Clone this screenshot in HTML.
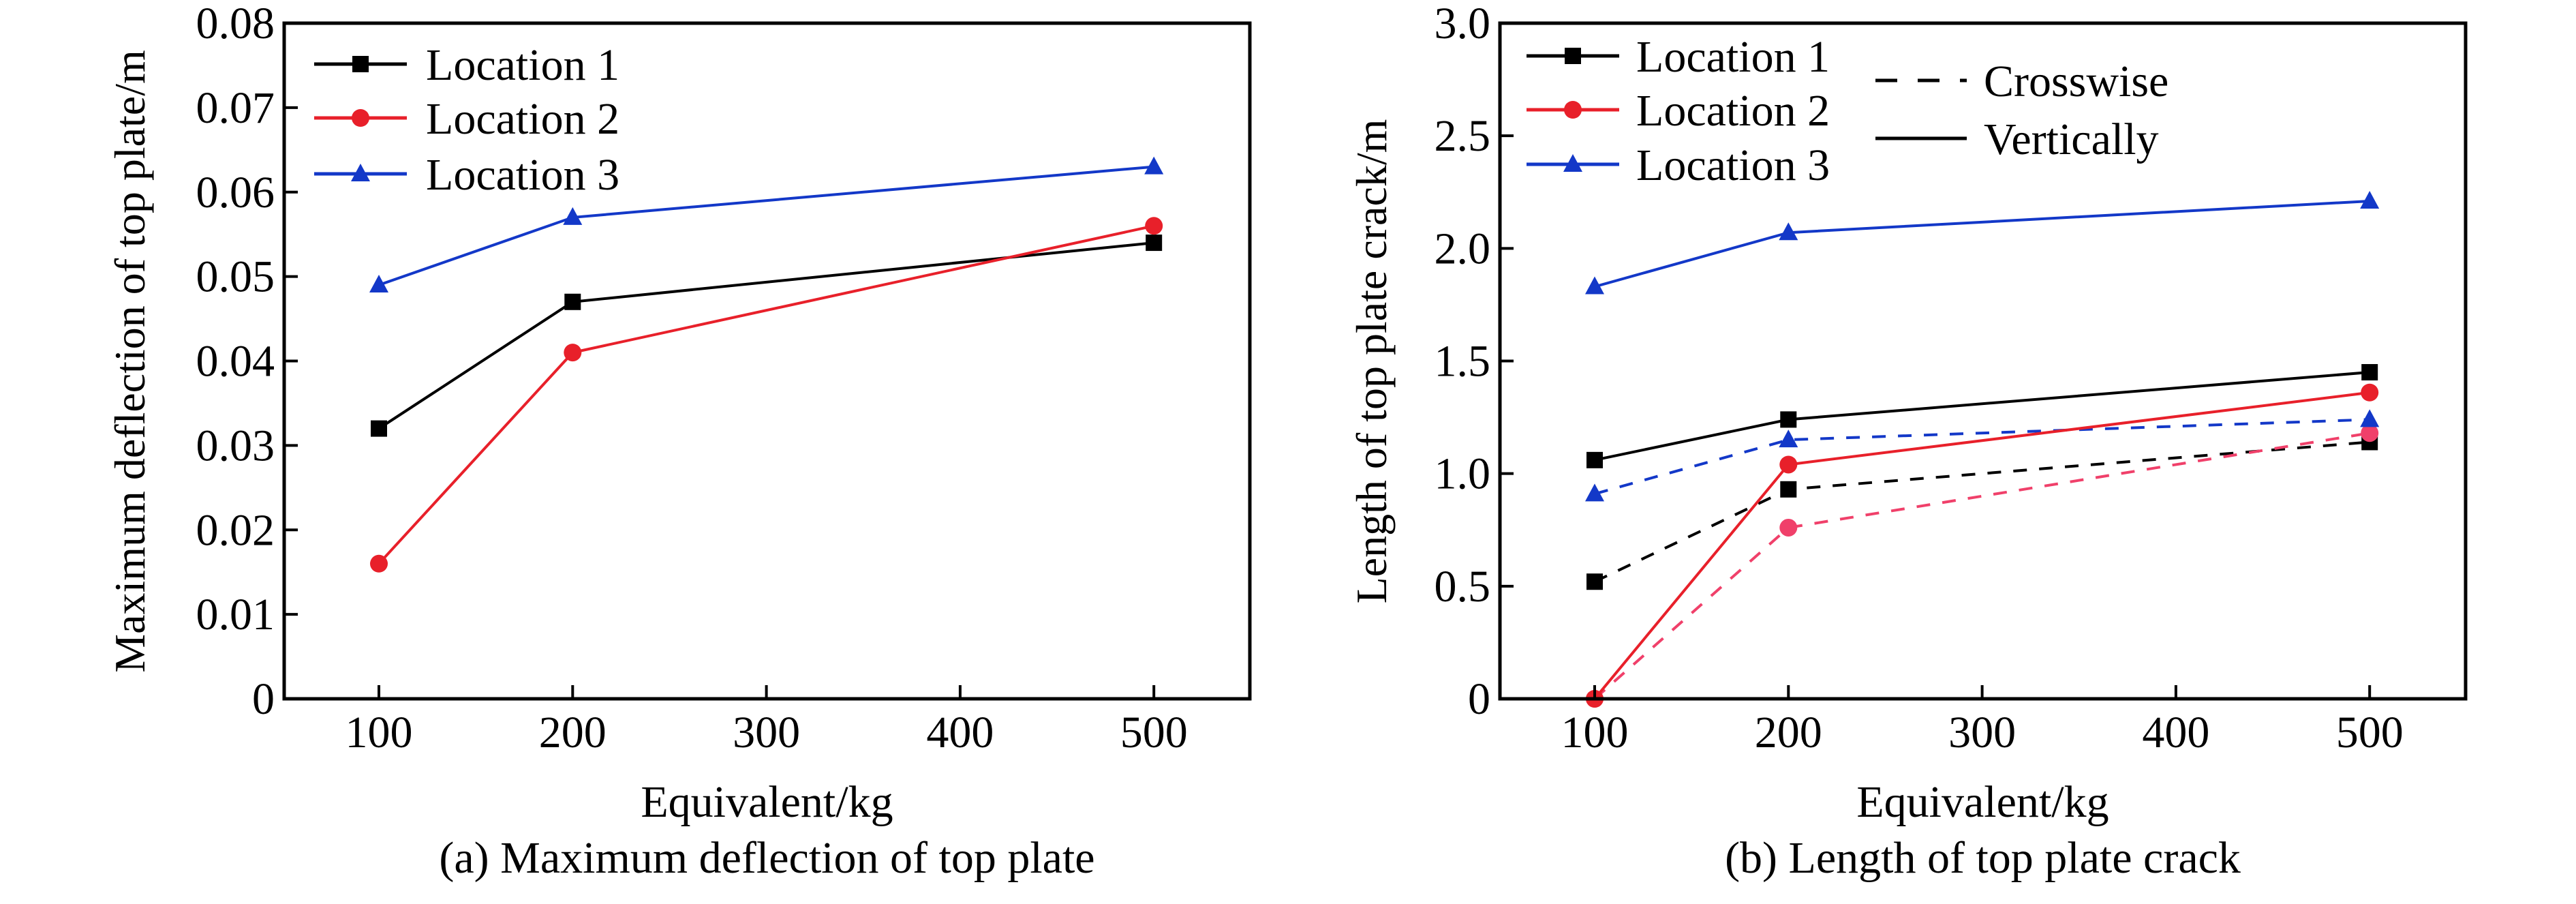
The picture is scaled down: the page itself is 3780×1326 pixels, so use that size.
<!DOCTYPE html>
<html><head><meta charset="utf-8"><style>
html,body{margin:0;padding:0;background:#fff;}
svg{display:block;font-family:"Liberation Serif",serif;}
</style></head><body>
<svg id="fig" width="3780" height="1326" viewBox="0 0 3780 1326" xmlns="http://www.w3.org/2000/svg"></svg>
<script>
const xCats = [100, 200, 500];
const xTicks = [100, 200, 300, 400, 500];
const aTicks = [0, 0.01, 0.02, 0.03, 0.04, 0.05, 0.06, 0.07, 0.08];
const aTickLabels = ["0", "0.01", "0.02", "0.03", "0.04", "0.05", "0.06", "0.07", "0.08"];
const aLoc1 = [0.032, 0.047, 0.054];
const aLoc2 = [0.016, 0.041, 0.056];
const aLoc3 = [0.049, 0.057, 0.063];
const bTicks = [0, 0.5, 1.0, 1.5, 2.0, 2.5, 3.0];
const bTickLabels = ["0", "0.5", "1.0", "1.5", "2.0", "2.5", "3.0"];
const bVert1 = [1.06, 1.24, 1.45];
const bVert2 = [0, 1.04, 1.36];
const bVert3 = [1.83, 2.07, 2.21];
const bCross1 = [0.52, 0.93, 1.14];
const bCross2 = [0, 0.76, 1.18];
const bCross3 = [0.91, 1.15, 1.24];

const NS = "http://www.w3.org/2000/svg";
const svg = document.getElementById('fig');
function mk(tag, attrs, parent) {
  const e = document.createElementNS(NS, tag);
  for (const k in attrs) e.setAttribute(k, attrs[k]);
  (parent || svg).appendChild(e);
  return e;
}
function marker(g, type, x, y, color) {
  let m;
  if (type === 'square') m = mk('rect', {x: x - 12, y: y - 12, width: 24, height: 24, fill: color}, g);
  else if (type === 'circle') m = mk('circle', {cx: x, cy: y, r: 13, fill: color}, g);
  else m = mk('polygon', {points: `${x},${y - 15} ${x - 14},${y + 11} ${x + 14},${y + 11}`, fill: color}, g);
  
  
}
function panel(opt) {
  const g = mk('g', {});
  
  
  const L = opt.left, R = opt.right, T = 34, B = 1025;
  const xs = v => opt.x100 + (v - 100) / 100 * opt.xper;
  const ys = v => B - (v / opt.ymax) * (B - T);
  opt.series.forEach(s => {
    const sg = mk('g', {}, g);
    
    
    const pts = s.vals.map((v, i) => xs(xCats[i]) + ',' + ys(v)).join(' ');
    const pl = mk('polyline', {points: pts, fill: 'none', stroke: s.color, 'stroke-width': 4, 'stroke-dasharray': s.dash || 'none'}, sg);
    
    
    s.vals.forEach((v, i) => marker(sg, s.marker, xs(xCats[i]), ys(v), s.color));
  });
  const box = mk('rect', {x: L, y: T, width: R - L, height: B - T, fill: 'none', stroke: '#000', 'stroke-width': 5}, g);
  
  
  xTicks.forEach(t => {
    const x = xs(t);
    mk('line', {x1: x, y1: B, x2: x, y2: B - 20, stroke: '#000', 'stroke-width': 4}, g);
    const tx = mk('text', {x: x, y: 1096, 'font-size': 66, 'text-anchor': 'middle'}, g);
    tx.textContent = t;
    
    
  });
  opt.yticks.forEach((t, i) => {
    const y = ys(t);
    mk('line', {x1: L, y1: y, x2: L + 20, y2: y, stroke: '#000', 'stroke-width': 4}, g);
    const tx = mk('text', {x: L - 14, y: y + 22, 'font-size': 66, 'text-anchor': 'end'}, g);
    tx.textContent = opt.ylabels[i];
    
    
  });
  const xt = mk('text', {x: (L + R) / 2, y: 1198, 'font-size': 66, 'text-anchor': 'middle'}, g);
  xt.textContent = 'Equivalent/kg';
  
  
  const yt = mk('text', {x: 0, y: 0, 'font-size': 64, 'text-anchor': 'middle', transform: `translate(${opt.ytx},${opt.yty}) rotate(-90)`}, g);
  yt.textContent = opt.ytitle;
  
  
  const cap = mk('text', {x: (L + R) / 2, y: 1280, 'font-size': 66, 'text-anchor': 'middle'}, g);
  cap.textContent = opt.caption;
  
  
  opt.legend.forEach(le => {
    const lg = mk('g', {}, g);
    
    
    mk('line', {x1: le.x1, y1: le.y, x2: le.x2, y2: le.y, stroke: le.color, 'stroke-width': 5, 'stroke-dasharray': le.dash || 'none'}, lg);
    if (le.marker) marker(lg, le.marker, (le.x1 + le.x2) / 2, le.y, le.color);
    const t = mk('text', {x: le.tx, y: le.y + 23, 'font-size': 66}, lg);
    t.textContent = le.label;
  });
}
const red = '#e8202a', blue = '#1338c8', pink = '#f0406a';
panel({name: 'panel-a-deflection', left: 417, right: 1834, x100: 556, xper: 284.3, ymax: 0.08,
  yticks: aTicks, ylabels: aTickLabels, ytx: 212, yty: 530,
  ytitle: 'Maximum deflection of top plate/m', caption: '(a) Maximum deflection of top plate',
  series: [
    {name: 'location-1-series', vals: aLoc1, color: '#000', marker: 'square'},
    {name: 'location-2-series', vals: aLoc2, color: red, marker: 'circle'},
    {name: 'location-3-series', vals: aLoc3, color: blue, marker: 'triangle'}],
  legend: [
    {x1: 461, x2: 597, y: 94, tx: 625, color: '#000', marker: 'square', label: 'Location 1'},
    {x1: 461, x2: 597, y: 173, tx: 625, color: red, marker: 'circle', label: 'Location 2'},
    {x1: 461, x2: 597, y: 255, tx: 625, color: blue, marker: 'triangle', label: 'Location 3'}]
});
panel({name: 'panel-b-crack-length', left: 2201, right: 3618, x100: 2340, xper: 284.3, ymax: 3.0,
  yticks: bTicks, ylabels: bTickLabels, ytx: 2034, yty: 530,
  ytitle: 'Length of top plate crack/m', caption: '(b) Length of top plate crack',
  series: [
    {name: 'location-1-crosswise', vals: bCross1, color: '#000', marker: 'square', dash: '20 18'},
    {name: 'location-2-crosswise', vals: bCross2, color: pink, marker: 'circle', dash: '20 18'},
    {name: 'location-3-crosswise', vals: bCross3, color: blue, marker: 'triangle', dash: '20 18'},
    {name: 'location-1-vertical', vals: bVert1, color: '#000', marker: 'square'},
    {name: 'location-2-vertical', vals: bVert2, color: red, marker: 'circle'},
    {name: 'location-3-vertical', vals: bVert3, color: blue, marker: 'triangle'}],
  legend: [
    {x1: 2240, x2: 2376, y: 82, tx: 2401, color: '#000', marker: 'square', label: 'Location 1'},
    {x1: 2240, x2: 2376, y: 161, tx: 2401, color: red, marker: 'circle', label: 'Location 2'},
    {x1: 2240, x2: 2376, y: 241, tx: 2401, color: blue, marker: 'triangle', label: 'Location 3'},
    {x1: 2752, x2: 2886, y: 118, tx: 2911, color: '#000', dash: '32 30', label: 'Crosswise'},
    {x1: 2752, x2: 2886, y: 203, tx: 2911, color: '#000', label: 'Vertically'}]
});
</script>
</body></html>
